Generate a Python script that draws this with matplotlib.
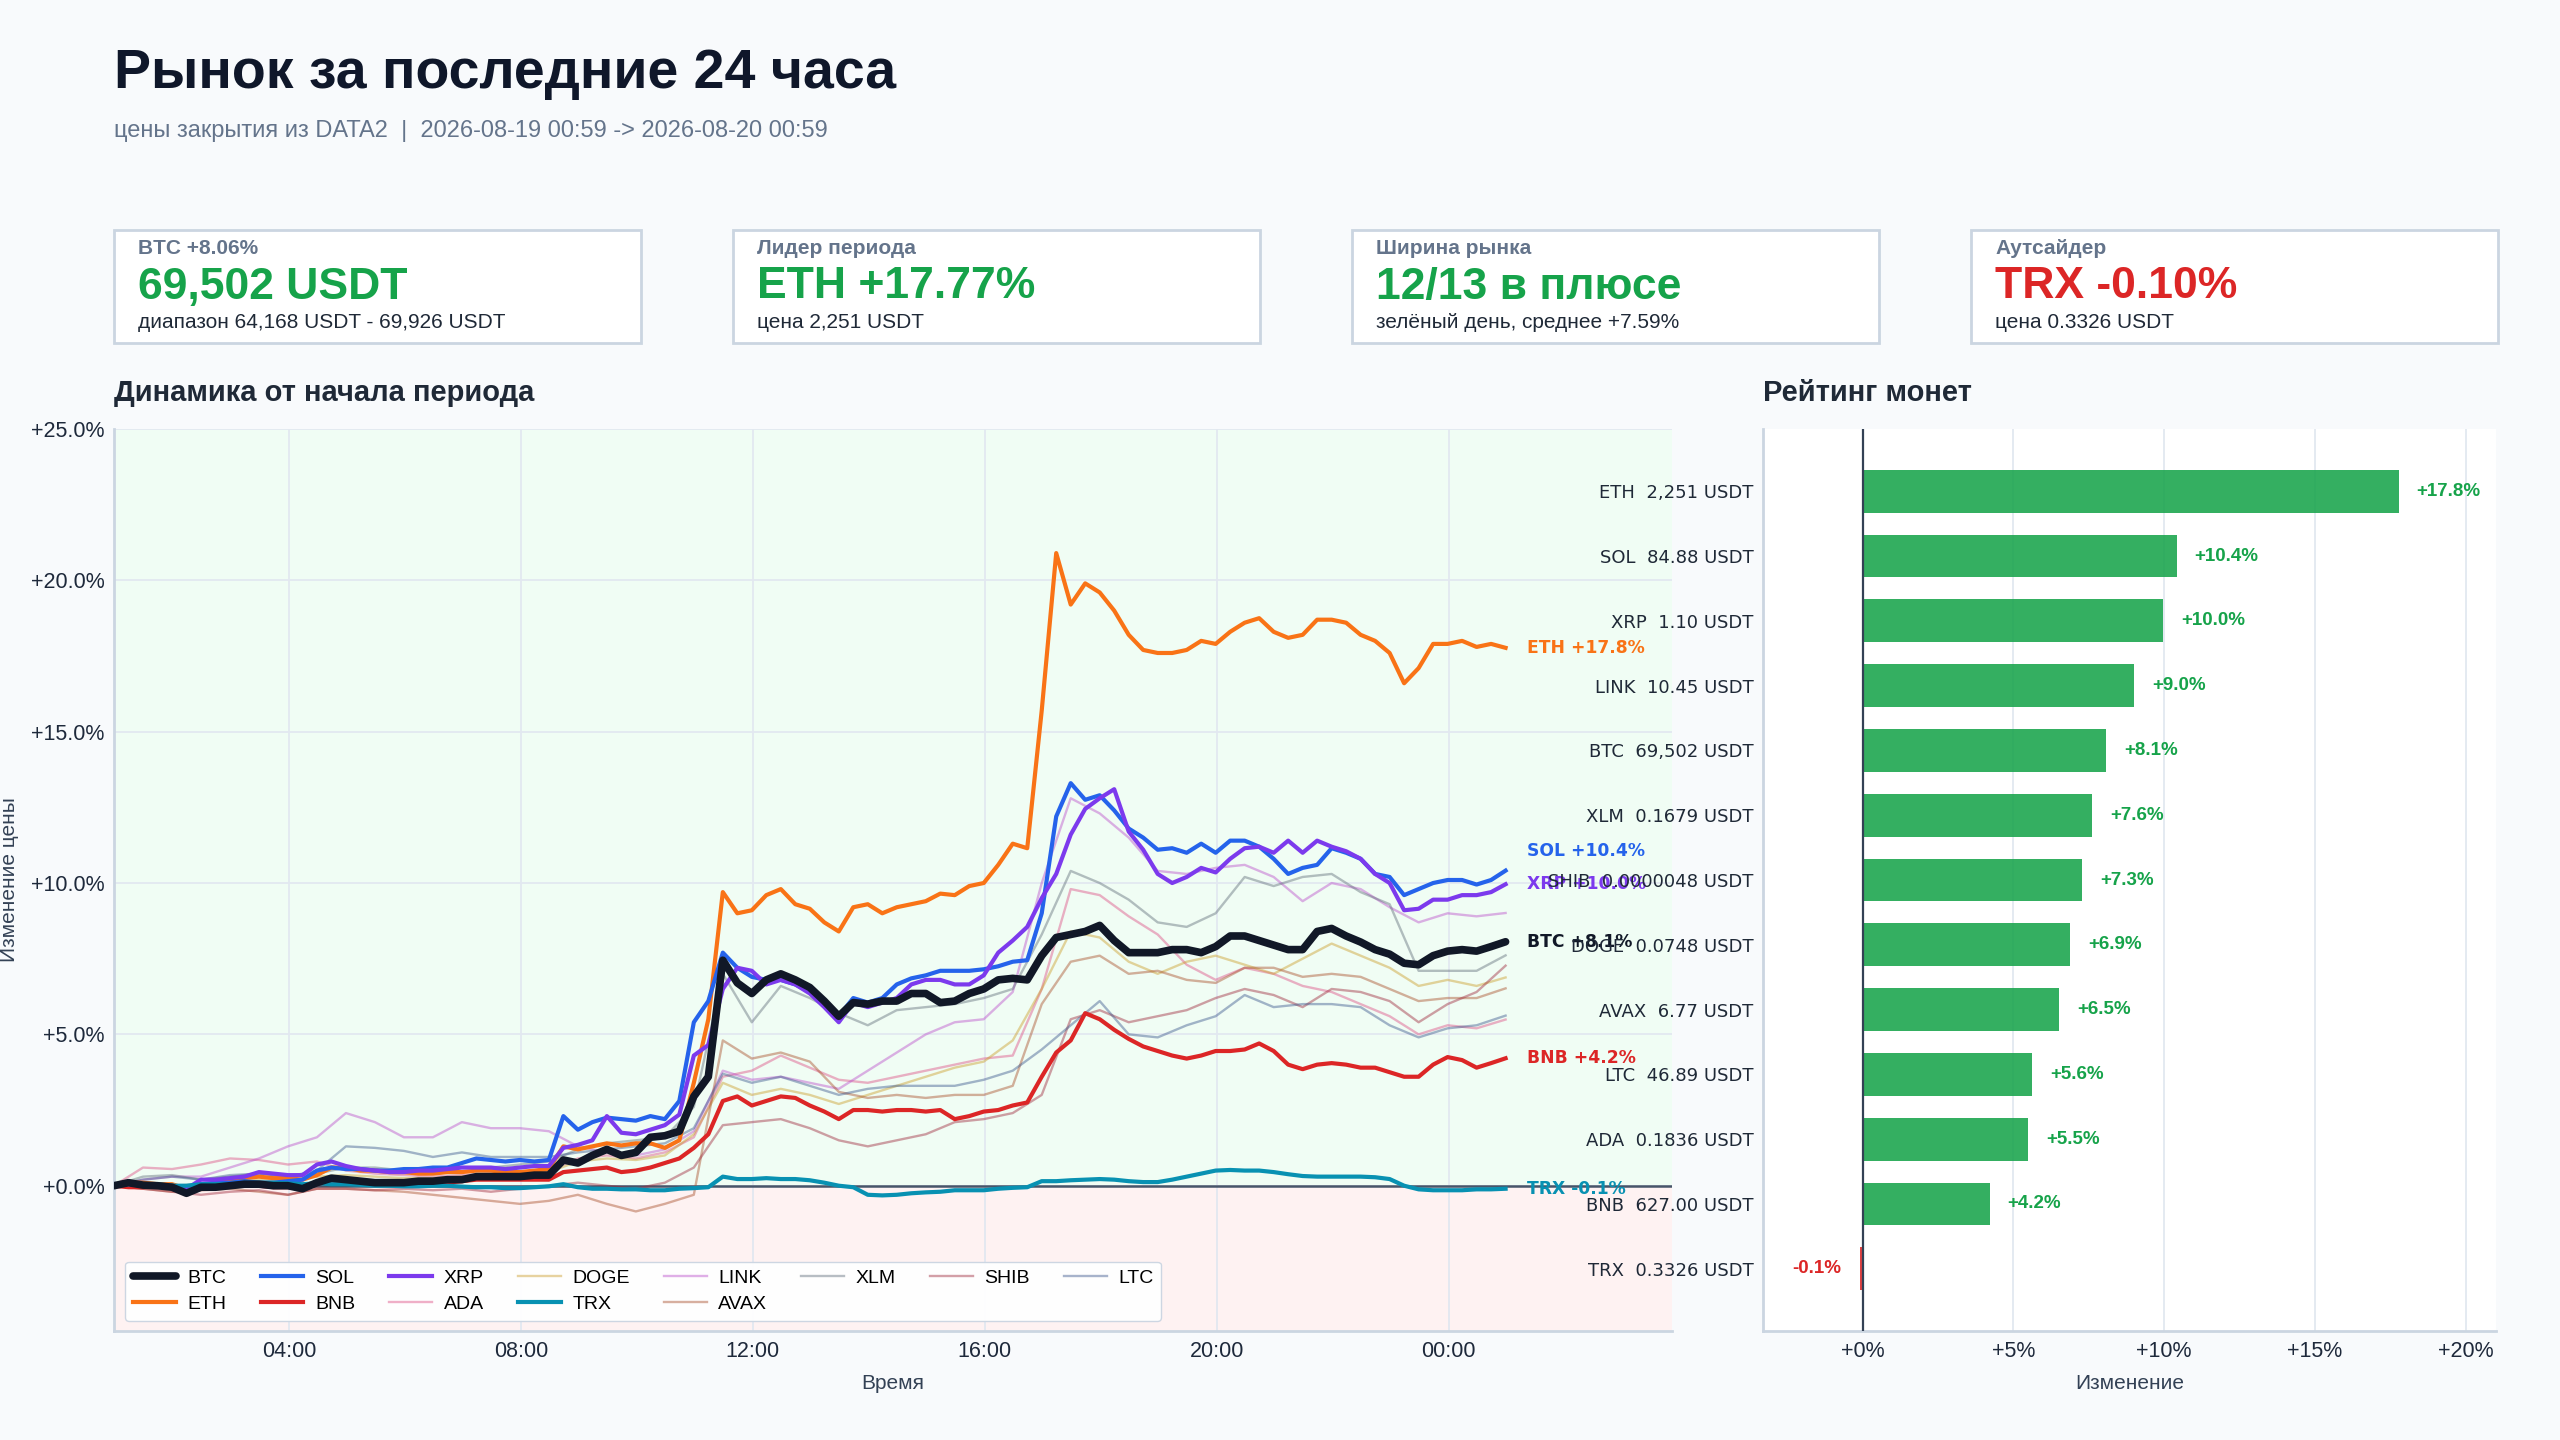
import matplotlib
matplotlib.use("Agg")
import matplotlib.pyplot as plt
import matplotlib.dates as mdates
from matplotlib.patches import Rectangle
from matplotlib.ticker import FuncFormatter
import pandas as pd

plt.rcParams['font.family'] = ['Liberation Sans', 'DejaVu Sans']

START = "2026-08-19 00:59"

# --- изменение цены от начала периода, %, шаг 15 минут ---
btc = [0.0, 0.1, 0.02, 0.0, -0.05, -0.25, -0.05, -0.05,
       0.0, 0.05, 0.05, 0.0, 0.0, -0.1, 0.1, 0.25,
       0.2, 0.15, 0.1, 0.1, 0.1, 0.15, 0.15, 0.2,
       0.2, 0.3, 0.3, 0.3, 0.3, 0.35, 0.35, 0.85,
       0.75, 1.0, 1.2, 1.0, 1.1, 1.6, 1.65, 1.8,
       2.95, 3.6, 7.45, 6.7, 6.35, 6.8, 7.0, 6.8,
       6.55, 6.1, 5.6, 6.05, 6.0, 6.1, 6.1, 6.35,
       6.35, 6.05, 6.1, 6.35, 6.5, 6.8, 6.85, 6.8,
       7.6, 8.2, 8.3, 8.4, 8.6, 8.1, 7.7, 7.7,
       7.7, 7.8, 7.8, 7.7, 7.9, 8.25, 8.25, 8.1,
       7.95, 7.8, 7.8, 8.4, 8.5, 8.25, 8.05, 7.8,
       7.65, 7.35, 7.3, 7.6, 7.75, 7.8, 7.75, 7.9,
       8.06]
eth = [0.0, 0.1, 0.1, 0.05, 0.05, -0.1, 0.0, 0.1,
       0.15, 0.25, 0.3, 0.25, 0.25, 0.2, 0.35, 0.6,
       0.6, 0.5, 0.5, 0.45, 0.45, 0.4, 0.4, 0.45,
       0.45, 0.5, 0.5, 0.45, 0.45, 0.5, 0.55, 1.3,
       1.2, 1.3, 1.4, 1.33, 1.4, 1.4, 1.25, 1.5,
       3.4, 5.5, 9.7, 9.0, 9.1, 9.6, 9.8, 9.3,
       9.15, 8.7, 8.4, 9.2, 9.3, 9.0, 9.2, 9.3,
       9.4, 9.65, 9.6, 9.9, 10.0, 10.6, 11.3, 11.15,
       15.7, 20.9, 19.2, 19.9, 19.6, 19.0, 18.2, 17.7,
       17.6, 17.6, 17.7, 18.0, 17.9, 18.3, 18.6, 18.75,
       18.3, 18.1, 18.2, 18.7, 18.7, 18.6, 18.2, 18.0,
       17.6, 16.6, 17.1, 17.9, 17.9, 18.0, 17.8, 17.9,
       17.77]
sol = [0.0, 0.05, 0.0, 0.0, 0.0, -0.05, 0.05, 0.1,
       0.1, 0.15, 0.1, 0.1, 0.15, 0.2, 0.5, 0.6,
       0.55, 0.55, 0.5, 0.5, 0.55, 0.55, 0.6, 0.6,
       0.75, 0.9, 0.85, 0.8, 0.85, 0.8, 0.85, 2.3,
       1.85, 2.1, 2.25, 2.2, 2.15, 2.3, 2.2, 2.8,
       5.4, 6.1, 7.7, 7.2, 6.9, 6.8, 6.8, 6.65,
       6.4, 6.05, 5.6, 6.2, 6.05, 6.2, 6.65, 6.85,
       6.95, 7.1, 7.1, 7.1, 7.15, 7.25, 7.4, 7.45,
       9.0, 12.2, 13.3, 12.75, 12.9, 12.4, 11.8, 11.5,
       11.1, 11.15, 11.0, 11.3, 11.0, 11.4, 11.4, 11.2,
       10.8, 10.3, 10.5, 10.6, 11.15, 11.0, 10.8, 10.3,
       10.2, 9.6, 9.8, 10.0, 10.1, 10.1, 9.95, 10.1,
       10.41]
bnb = [0.0, -0.05, -0.05, 0.0, -0.05, -0.15, -0.05, -0.05,
       0.0, 0.0, 0.0, -0.05, -0.05, -0.1, 0.05, 0.1,
       0.1, 0.05, 0.05, 0.05, 0.05, 0.05, 0.05, 0.1,
       0.15, 0.2, 0.2, 0.2, 0.2, 0.2, 0.2, 0.45,
       0.5, 0.55, 0.6, 0.45, 0.5, 0.6, 0.75, 0.9,
       1.25, 1.7, 2.8, 2.95, 2.65, 2.8, 2.95, 2.9,
       2.65, 2.45, 2.2, 2.5, 2.5, 2.45, 2.5, 2.5,
       2.45, 2.5, 2.2, 2.3, 2.45, 2.5, 2.65, 2.75,
       3.6, 4.4, 4.8, 5.7, 5.5, 5.15, 4.85, 4.6,
       4.45, 4.3, 4.2, 4.3, 4.45, 4.45, 4.5, 4.7,
       4.45, 4.0, 3.85, 4.0, 4.05, 4.0, 3.9, 3.9,
       3.75, 3.6, 3.6, 4.0, 4.25, 4.15, 3.9, 4.05,
       4.21]
xrp = [0.0, 0.05, 0.0, 0.0, -0.05, -0.1, 0.2, 0.2,
       0.25, 0.3, 0.45, 0.4, 0.35, 0.35, 0.7, 0.8,
       0.65, 0.55, 0.5, 0.45, 0.45, 0.5, 0.5, 0.55,
       0.6, 0.6, 0.6, 0.55, 0.6, 0.65, 0.65, 1.25,
       1.35, 1.5, 2.3, 1.75, 1.7, 1.85, 2.0, 2.35,
       4.3, 4.65, 6.5, 7.2, 7.1, 6.65, 6.8, 6.65,
       6.35, 5.9, 5.4, 6.05, 5.9, 6.05, 6.2, 6.65,
       6.8, 6.8, 6.65, 6.65, 6.95, 7.7, 8.1, 8.55,
       9.5, 10.3, 11.6, 12.45, 12.8, 13.1, 11.7, 11.1,
       10.3, 10.0, 10.2, 10.5, 10.35, 10.8, 11.15, 11.2,
       11.0, 11.4, 11.0, 11.4, 11.2, 11.05, 10.8, 10.3,
       10.0, 9.1, 9.15, 9.45, 9.45, 9.6, 9.6, 9.7,
       9.96]
trx = [0.0, 0.05, 0.05, 0.05, 0.0, 0.0, 0.05, 0.05,
       0.05, 0.1, 0.1, 0.1, 0.08, 0.05, 0.08, 0.05,
       0.05, 0.03, 0.0, 0.0, -0.02, -0.02, 0.0, 0.0,
       -0.03, -0.05, -0.05, -0.08, -0.08, -0.05, -0.02, 0.05,
       -0.05, -0.1, -0.1, -0.12, -0.12, -0.15, -0.15, -0.1,
       -0.08, -0.05, 0.3, 0.22, 0.22, 0.25, 0.22, 0.22,
       0.18, 0.1, 0.0, -0.05, -0.3, -0.32, -0.3, -0.25,
       -0.22, -0.2, -0.15, -0.15, -0.15, -0.1, -0.07, -0.05,
       0.15, 0.15, 0.18, 0.2, 0.22, 0.2, 0.15, 0.12,
       0.12, 0.2, 0.3, 0.4, 0.5, 0.52, 0.5, 0.5,
       0.45, 0.38, 0.32, 0.3, 0.3, 0.3, 0.3, 0.28,
       0.22, 0.0, -0.12, -0.15, -0.15, -0.15, -0.12, -0.12,
       -0.10]

# --- остальные монеты, шаг 30 минут ---
ada = [0.0, 0.6, 0.55, 0.7, 0.9, 0.85, 0.7, 0.8,
       0.5, 0.4, 0.35, 0.3, 0.35, 0.4, 0.4, 0.5,
       0.9, 1.0, 0.9, 1.1, 1.6, 3.6, 3.8, 4.3,
       3.9, 3.5, 3.4, 3.6, 3.8, 4.0, 4.2, 4.3,
       6.5, 9.8, 9.6, 8.9, 8.3, 7.3, 6.8, 7.2,
       7.0, 6.6, 6.4, 6.0, 5.6, 5.0, 5.3, 5.2,
       5.49]
doge = [0.0, 0.1, 0.0, 0.05, 0.1, 0.2, 0.15, 0.3,
        0.35, 0.3, 0.25, 0.25, 0.3, 0.35, 0.4, 0.45,
        0.8, 0.9, 0.85, 1.0, 1.7, 3.4, 3.0, 3.2,
        3.0, 2.7, 3.0, 3.3, 3.6, 3.9, 4.1, 4.8,
        6.5, 8.4, 8.2, 7.4, 7.0, 7.4, 7.6, 7.3,
        7.0, 7.5, 8.0, 7.6, 7.2, 6.6, 6.8, 6.6,
        6.88]
link = [0.0, 0.2, 0.3, 0.3, 0.6, 0.9, 1.3, 1.6,
        2.4, 2.1, 1.6, 1.6, 2.1, 1.9, 1.9, 1.8,
        1.3, 1.1, 1.0, 1.2, 1.8, 3.8, 3.5, 3.6,
        3.4, 3.2, 3.8, 4.4, 5.0, 5.4, 5.5, 6.4,
        10.0, 12.8, 12.3, 11.5, 10.4, 10.3, 10.5, 10.6,
        10.2, 9.4, 10.0, 9.8, 9.2, 8.7, 9.0, 8.9,
        9.01]
avax = [0.0, -0.1, -0.2, -0.15, -0.1, -0.2, -0.3, -0.1,
        -0.1, -0.15, -0.2, -0.3, -0.4, -0.5, -0.6, -0.5,
        -0.3, -0.6, -0.85, -0.6, -0.3, 4.8, 4.2, 4.4,
        4.1, 3.1, 2.9, 3.0, 2.9, 3.0, 3.0, 3.3,
        6.0, 7.4, 7.6, 7.0, 7.1, 6.8, 6.7, 7.2,
        7.2, 6.9, 7.0, 6.9, 6.5, 6.1, 6.2, 6.2,
        6.52]
xlm = [0.0, 0.3, 0.35, 0.2, 0.3, 0.4, 0.3, 0.4,
       0.6, 0.6, 0.5, 0.5, 0.6, 0.6, 0.7, 0.8,
       1.2, 1.4, 1.5, 1.6, 2.6, 7.0, 5.4, 6.6,
       6.2, 5.7, 5.3, 5.8, 5.9, 6.0, 6.2, 6.5,
       8.3, 10.4, 10.0, 9.45, 8.7, 8.55, 9.0, 10.2,
       9.9, 10.2, 10.3, 9.7, 9.3, 7.1, 7.1, 7.1,
       7.61]
shib = [0.0, -0.1, -0.2, -0.3, -0.2, -0.15, -0.3, -0.1,
        -0.1, -0.15, -0.1, -0.15, -0.1, -0.2, -0.1, 0.0,
        0.1, 0.0, -0.1, 0.1, 0.6, 2.0, 2.1, 2.2,
        1.9, 1.5, 1.3, 1.5, 1.7, 2.1, 2.2, 2.4,
        3.0, 5.5, 5.8, 5.4, 5.6, 5.8, 6.2, 6.5,
        6.3, 5.9, 6.5, 6.4, 6.1, 5.4, 6.0, 6.4,
        7.27]
ltc = [0.0, 0.2, 0.3, 0.2, 0.35, 0.4, 0.3, 0.5,
       1.3, 1.25, 1.15, 0.95, 1.1, 0.95, 0.95, 0.95,
       1.1, 1.2, 1.3, 1.4, 1.9, 3.7, 3.4, 3.6,
       3.3, 3.0, 3.2, 3.3, 3.3, 3.3, 3.5, 3.8,
       4.5, 5.3, 6.1, 5.0, 4.9, 5.3, 5.6, 6.3,
       5.9, 6.0, 6.0, 5.9, 5.3, 4.9, 5.2, 5.3,
       5.62]

coins = ["BTC", "ETH", "SOL", "BNB", "XRP", "ADA", "DOGE", "TRX",
         "LINK", "AVAX", "XLM", "SHIB", "LTC"]
series = {"BTC": btc, "ETH": eth, "SOL": sol, "BNB": bnb, "XRP": xrp,
          "ADA": ada, "DOGE": doge, "TRX": trx, "LINK": link, "AVAX": avax,
          "XLM": xlm, "SHIB": shib, "LTC": ltc}
major = ["BTC", "ETH", "SOL", "BNB", "XRP", "TRX"]
colors = {"BTC": "#111827", "ETH": "#f97316", "SOL": "#2563eb", "BNB": "#dc2626",
          "XRP": "#7c3aed", "TRX": "#0891b2", "ADA": "#de5085", "DOGE": "#cc9e2c",
          "LINK": "#bb50cc", "AVAX": "#a9502c", "XLM": "#626f7c", "SHIB": "#a02c3e",
          "LTC": "#3e598e"}

# --- рейтинг ---
rank_coins = ["ETH", "SOL", "XRP", "LINK", "BTC", "XLM", "SHIB", "DOGE",
              "AVAX", "LTC", "ADA", "BNB", "TRX"]
rank_pct = [17.77, 10.41, 9.96, 9.01, 8.06, 7.61, 7.27, 6.88,
            6.52, 5.62, 5.49, 4.21, -0.10]
rank_price = ["2,251", "84.88", "1.10", "10.45", "69,502", "0.1679", "0.0000048",
              "0.0748", "6.77", "46.89", "0.1836", "627.00", "0.3326"]
btc_low, btc_high = "64,168", "69,926"

GREEN, RED = "#16a34a", "#dc2626"
W, H = 2560, 1440

fig = plt.figure(figsize=(25.6, 14.4), dpi=100, facecolor="#f8fafc")

fig.text(114 / W, 1 - 74 / H, "Рынок за последние 24 часа", fontsize=40,
         fontweight="bold", color="#0f172a", va="center")
fig.text(114 / W, 1 - 131 / H,
         "цены закрытия из DATA2  |  2026-08-19 00:59 -> 2026-08-20 00:59",
         fontsize=17, color="#64748b", va="center")

# --- карточки ---
n_up = sum(1 for p in rank_pct if p > 0)
avg = sum(rank_pct) / len(rank_pct)
i_btc = rank_coins.index("BTC")
cards = [
    (f"BTC {rank_pct[i_btc]:+.2f}%", f"{rank_price[i_btc]} USDT",
     f"диапазон {btc_low} USDT - {btc_high} USDT", GREEN),
    ("Лидер периода", f"{rank_coins[0]} {rank_pct[0]:+.2f}%",
     f"цена {rank_price[0]} USDT", GREEN),
    ("Ширина рынка", f"{n_up}/{len(rank_pct)} в плюсе",
     f"зелёный день, среднее {avg:+.2f}%", GREEN),
    ("Аутсайдер", f"{rank_coins[-1]} {rank_pct[-1]:+.2f}%",
     f"цена {rank_price[-1]} USDT", RED),
]
for i, (lab, val, sub, col) in enumerate(cards):
    x0 = 114 + i * 619
    fig.patches.append(Rectangle((x0 / W, 1 - 343 / H), 527 / W, 113 / H,
                                 transform=fig.transFigure, facecolor="white",
                                 edgecolor="#cbd5e1", lw=2))
    fig.text((x0 + 24) / W, 1 - 249 / H, lab, fontsize=15, fontweight="bold",
             color="#64748b", va="center")
    fig.text((x0 + 24) / W, 1 - 287 / H, val, fontsize=32, fontweight="bold",
             color=col, va="center")
    fig.text((x0 + 24) / W, 1 - 323 / H, sub, fontsize=15, color="#1f2937",
             va="center")

fig.text(114 / W, 1 - 393 / H, "Динамика от начала периода", fontsize=21,
         fontweight="bold", color="#1f2937", va="center")
fig.text(1763 / W, 1 - 393 / H, "Рейтинг монет", fontsize=21,
         fontweight="bold", color="#1f2937", va="center")

# --- линейный график ---
ax = fig.add_axes([114 / W, 1 - 1331 / H, (1672 - 114) / W, (1331 - 429) / H])
ax.set_facecolor("white")
ymin, ymax = -4.8, 25
ax.axhspan(0, ymax, color="#f0fdf4", zorder=0)
ax.axhspan(ymin, 0, color="#fef2f2", zorder=0)
ax.set_axisbelow(True)
ax.grid(True, color="#e2e8f0", lw=1.3)
ax.axhline(0, color="#475569", lw=1.8, zorder=2)

t0 = pd.Timestamp(START)
for c in coins:
    vals = series[c]
    step = "15min" if c in major else "30min"
    tt = pd.date_range(START, periods=len(vals), freq=step)
    if c == "BTC":
        ax.plot(tt, vals, color=colors[c], lw=5.5, zorder=6, label=c,
                solid_capstyle="round")
    elif c in major:
        ax.plot(tt, vals, color=colors[c], lw=3.0, zorder=5, label=c)
    else:
        ax.plot(tt, vals, color=colors[c], lw=1.7, alpha=0.45, zorder=3, label=c)

# подписи на концах линий, раздвинутые по вертикали
t_end = pd.date_range(START, periods=len(btc), freq="15min")[-1]
ends = sorted((series[c][-1], c) for c in major)
prev = None
for v, c in ends:
    y = v if prev is None else max(v, prev + 1.1)
    prev = y
    ax.text(t_end + pd.Timedelta(minutes=22), y, f"{c} {v:+.1f}%",
            color=colors[c], fontsize=12.3, fontweight="bold",
            family="DejaVu Sans", va="center", ha="left", zorder=7)

ax.set_xlim(t0, t0 + pd.Timedelta(hours=26.87))
ax.set_ylim(ymin, ymax)
ax.set_yticks([0, 5, 10, 15, 20, 25])
ax.yaxis.set_major_formatter(FuncFormatter(lambda v, _: f"{v:+.1f}%"))
ax.xaxis.set_major_locator(mdates.HourLocator(byhour=[0, 4, 8, 12, 16, 20]))
ax.xaxis.set_major_formatter(mdates.DateFormatter("%H:%M"))
ax.tick_params(length=0, labelsize=15.5, labelcolor="#1e293b", pad=7)
ax.set_xlabel("Время", fontsize=15, color="#334155", labelpad=9)
ax.set_ylabel("Изменение цены", fontsize=15, color="#334155", labelpad=8)
for s in ["top", "right"]:
    ax.spines[s].set_visible(False)
for s in ["left", "bottom"]:
    ax.spines[s].set_color("#cbd5e1")
    ax.spines[s].set_linewidth(2)

leg = ax.legend(ncol=8, loc="lower left", bbox_to_anchor=(0.0073, 0.011),
                borderaxespad=0, fontsize=14, frameon=True, handlelength=2.2,
                handletextpad=0.6, columnspacing=1.75, labelspacing=0.45,
                borderpad=0.4)
leg.get_frame().set_facecolor("white")
leg.get_frame().set_edgecolor("#cbd5e1")
leg.get_frame().set_alpha(0.95)
leg.set_zorder(8)

# --- рейтинг монет ---
axb = fig.add_axes([1763 / W, 1 - 1331 / H, (2496 - 1763) / W, (1331 - 429) / H])
axb.set_facecolor("white")
pos = list(range(len(rank_coins)))
bar_cols = [GREEN if p >= 0 else RED for p in rank_pct]
axb.barh(pos, rank_pct, height=0.66, color=bar_cols, alpha=0.87, zorder=3)
axb.set_axisbelow(True)
axb.grid(axis="x", color="#e2e8f0", lw=1.3)
axb.axvline(0, color="#334155", lw=1.6, zorder=4)
for i, p in enumerate(rank_pct):
    if p >= 0:
        axb.text(p + 0.6, i, f"{p:+.1f}%", color=GREEN, fontsize=13.5,
                 fontweight="bold", va="center", ha="left")
    else:
        axb.text(p - 0.6, i, f"{p:+.1f}%", color=RED, fontsize=13.5,
                 fontweight="bold", va="center", ha="right")
axb.set_yticks(pos)
axb.set_yticklabels([f"{c}  {pr} USDT" for c, pr in zip(rank_coins, rank_price)],
                    family="DejaVu Sans", fontsize=13, color="#1f2937")
axb.set_ylim(len(rank_coins) - 1 + 0.96, -0.96)
axb.set_xlim(-3.3, 21)
axb.set_xticks([0, 5, 10, 15, 20])
axb.xaxis.set_major_formatter(FuncFormatter(lambda v, _: f"{v:+.0f}%"))
axb.tick_params(axis="x", length=0, labelsize=15.5, labelcolor="#1e293b", pad=7)
axb.tick_params(axis="y", length=0, pad=7)
axb.set_xlabel("Изменение", fontsize=15, color="#334155", labelpad=9)
for s in ["top", "right"]:
    axb.spines[s].set_visible(False)
for s in ["left", "bottom"]:
    axb.spines[s].set_color("#cbd5e1")
    axb.spines[s].set_linewidth(2)

fig.savefig("out.png", dpi=100, facecolor=fig.get_facecolor())
